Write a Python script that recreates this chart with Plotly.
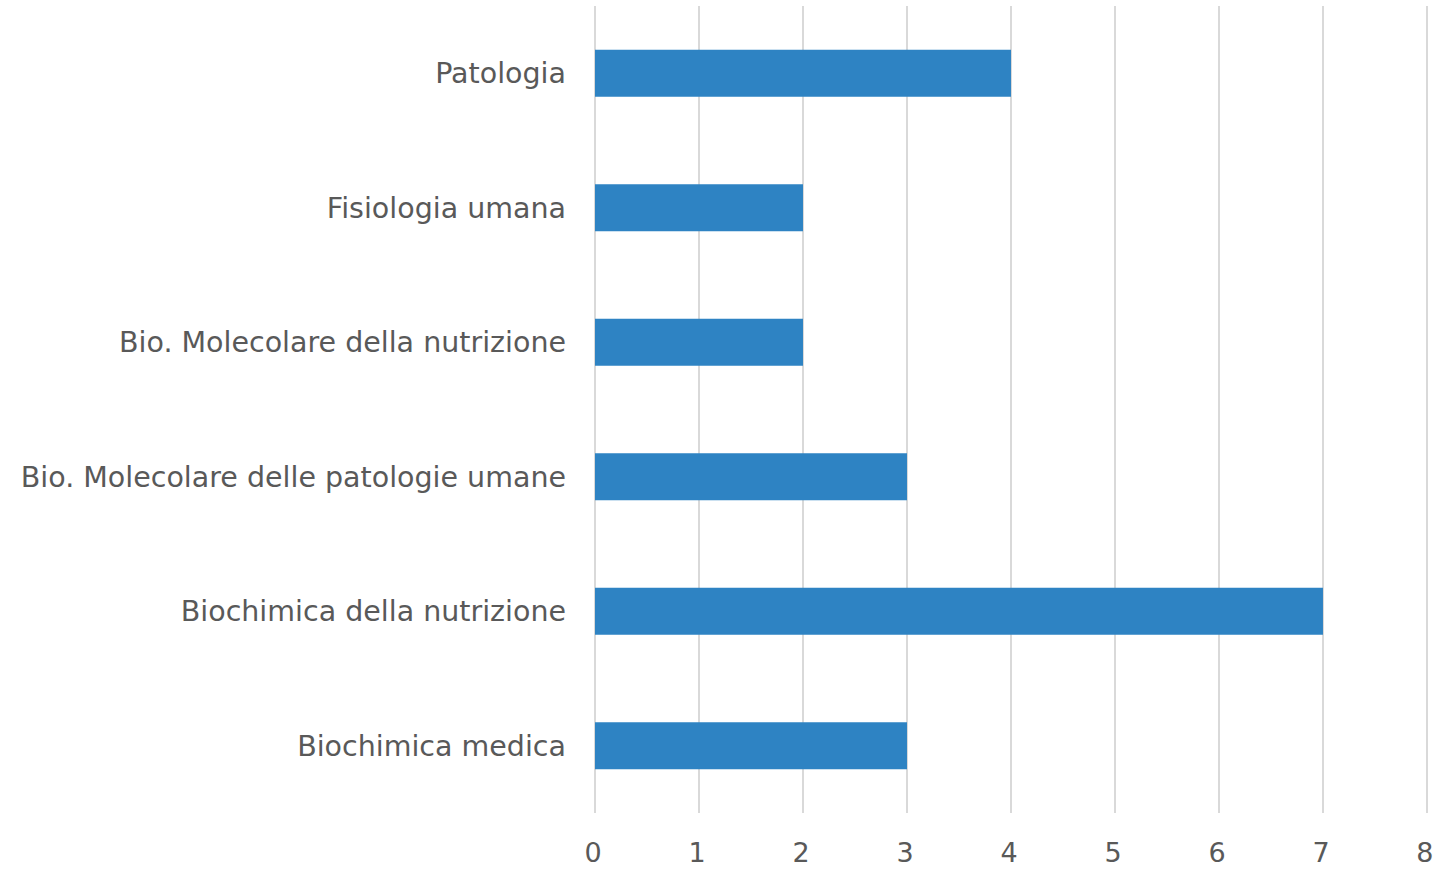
import plotly.graph_objects as go

categories = ["Biochimica medica", "Biochimica della nutrizione",
              "Bio. Molecolare delle patologie umane", "Bio. Molecolare della nutrizione",
              "Fisiologia umana", "Patologia"]
values = [3, 7, 3, 2, 2, 4]
x_ticks = [0, 1, 2, 3, 4, 5, 6, 7, 8]

fig = go.Figure(go.Bar(
    x=values, y=categories, orientation="h",
    marker=dict(color="#2E83C3", line=dict(width=0)),
))

font_family = "DejaVu Sans"
fig.update_layout(
    width=1435, height=871,
    margin=dict(l=595, r=7, t=6, b=58),
    paper_bgcolor="white", plot_bgcolor="white",
    bargap=0.65,
    showlegend=False,
    font=dict(family=font_family, size=28, color="#595959"),
)
fig.update_xaxes(
    range=[0, 8.01], tickvals=x_ticks, ticktext=[str(t) for t in x_ticks],
    showgrid=True, gridcolor="#D9D9D9", gridwidth=2,
    zeroline=True, zerolinecolor="#D9D9D9", zerolinewidth=2,
    showline=False, ticks="", ticklabelstandoff=21, automargin=False,
    ticklabelshift=-2,
    tickfont=dict(size=27, color="#595959"),
)
fig.update_yaxes(
    categoryorder="array", categoryarray=categories,
    showgrid=False, zeroline=False, showline=False, ticks="",
    ticklabelstandoff=28, automargin=False,
    tickfont=dict(size=28.5, color="#595959"),
)

fig.write_html(
    "out.html",
    config={"displayModeBar": False},
    post_script="document.body.style.margin='0';document.body.style.overflow='hidden';",
)
